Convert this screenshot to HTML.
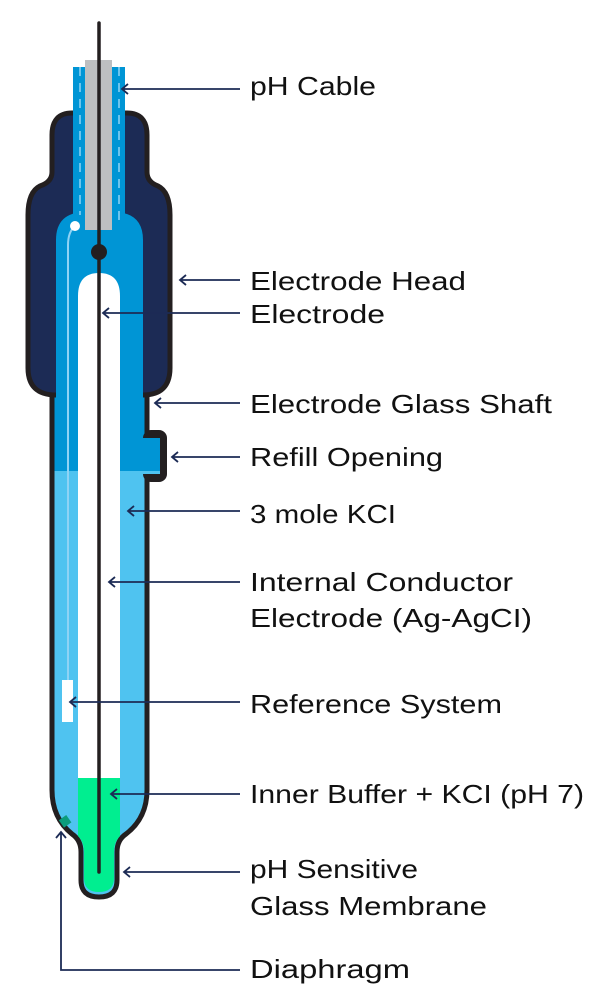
<!DOCTYPE html>
<html><head><meta charset="utf-8"><style>
html,body{margin:0;padding:0;background:#fff;}
svg{display:block}
text{font-family:"Liberation Sans",sans-serif;font-size:26px;fill:#111;}
</style></head><body>
<svg width="606" height="1000" viewBox="0 0 606 1000" xmlns="http://www.w3.org/2000/svg">
<defs>
<linearGradient id="bg" x1="0" y1="0" x2="0" y2="1000" gradientUnits="userSpaceOnUse">
<stop offset="0.471" stop-color="#0095d5"/><stop offset="0.471" stop-color="#4fc3f0"/>
</linearGradient>
</defs>
<path d="M52,300 L52,790 Q52,818 72,834 Q81,840 81,852 L81,880 Q81,897 99,897 Q117,897 117,880 L117,852 Q117,840 126,834 Q147,818 147,790 L147,300 Z" fill="url(#bg)" stroke="#231f20" stroke-width="5"/>
<rect x="143" y="430" width="24" height="52" rx="8" fill="#231f20"/>
<rect x="143" y="438" width="17" height="36" fill="#0095d5"/>
<rect x="143" y="471" width="17" height="3" fill="#4fc3f0"/>
<rect x="145" y="425" width="3" height="60" fill="#231f20"/>
<rect x="140" y="438" width="8" height="36" fill="#0095d5"/>
<rect x="140" y="471" width="8" height="3" fill="#4fc3f0"/>
<rect x="73" y="67" width="52" height="160" fill="#0095d5"/>
<path d="M72,113 L127,113 Q147,113 147,135 L147,172 Q147,182 158,186 Q170,192 170,215 L170,368 Q170,395 143,395 L56,395 Q28,395 28,368 L28,215 Q28,192 40,186 Q52,182 52,172 L52,135 Q52,113 72,113 Z" fill="#1c2b55" stroke="#231f20" stroke-width="5"/>
<rect x="73" y="110" width="52" height="110" fill="#0095d5"/>
<path d="M56,400 V240 Q56,212 86,212 H113 Q143,212 143,240 V400 Z" fill="#0095d5"/>
<line x1="80" y1="67" x2="80" y2="215" stroke="#8fd3f5" stroke-width="1.5" stroke-dasharray="9,7"/>
<line x1="119" y1="67" x2="119" y2="225" stroke="#8fd3f5" stroke-width="1.5" stroke-dasharray="9,7"/>
<rect x="85" y="60" width="27" height="170" fill="#bdbfc1"/>
<path d="M75,226 Q68,232 68,245 L68,680" stroke="#8fd3f5" stroke-width="2" fill="none"/>
<circle cx="75" cy="226" r="5" fill="#fff"/>
<path d="M78,778 V296 Q78,273 99,273 Q120,273 120,296 V778 Z" fill="#fff"/>
<path d="M78,778 H120 V836 Q114,842 114,852 V878 Q114,892 99,892 Q84,892 84,878 V852 Q84,842 78,836 Z" fill="#00ee90"/>
<rect x="62" y="680" width="11" height="42" fill="#fff"/>
<rect x="61" y="817" width="9" height="9" fill="#0b9c7c" transform="rotate(-35 65 822)"/>
<line x1="99" y1="23" x2="99" y2="872" stroke="#231f20" stroke-width="3.5" stroke-linecap="round"/>
<circle cx="99" cy="252" r="8" fill="#231f20"/>
<g stroke="#1c2b55" stroke-width="1.8" fill="none">
<path d="M240,89 H122 M128,84 L122,89 L128,94"/>
<path d="M240,280 H180 M186,275 L180,280 L186,285"/>
<path d="M240,313 H103 M109,308 L103,313 L109,318"/>
<path d="M240,403 H155 M161,398 L155,403 L161,408"/>
<path d="M240,457 H172 M178,452 L172,457 L178,462"/>
<path d="M240,511 H128 M134,506 L128,511 L134,516"/>
<path d="M240,582 H109 M115,577 L109,582 L115,587"/>
<path d="M240,702 H70 M76,697 L70,702 L76,707"/>
<path d="M240,794 H111 M117,789 L111,794 L117,799"/>
<path d="M240,872 H124 M130,867 L124,872 L130,877"/>
<path d="M240,970 H61 V832 M56,838 L61,832 L66,838"/>
</g>
<text x="250" y="95" textLength="126" lengthAdjust="spacingAndGlyphs">pH Cable</text>
<text x="250" y="290" textLength="216" lengthAdjust="spacingAndGlyphs">Electrode Head</text>
<text x="250" y="323" textLength="135" lengthAdjust="spacingAndGlyphs">Electrode</text>
<text x="250" y="413" textLength="302" lengthAdjust="spacingAndGlyphs">Electrode Glass Shaft</text>
<text x="250" y="466" textLength="193" lengthAdjust="spacingAndGlyphs">Refill Opening</text>
<text x="250" y="523" textLength="146" lengthAdjust="spacingAndGlyphs">3 mole KCI</text>
<text x="250" y="591" textLength="263" lengthAdjust="spacingAndGlyphs">Internal Conductor</text>
<text x="250" y="627" textLength="282" lengthAdjust="spacingAndGlyphs">Electrode (Ag-AgCI)</text>
<text x="250" y="713" textLength="252" lengthAdjust="spacingAndGlyphs">Reference System</text>
<text x="250" y="803" textLength="334" lengthAdjust="spacingAndGlyphs">Inner Buffer + KCI (pH 7)</text>
<text x="250" y="878" textLength="168" lengthAdjust="spacingAndGlyphs">pH Sensitive</text>
<text x="250" y="915" textLength="237" lengthAdjust="spacingAndGlyphs">Glass Membrane</text>
<text x="250" y="978" textLength="160" lengthAdjust="spacingAndGlyphs">Diaphragm</text>
</svg>
</body></html>
